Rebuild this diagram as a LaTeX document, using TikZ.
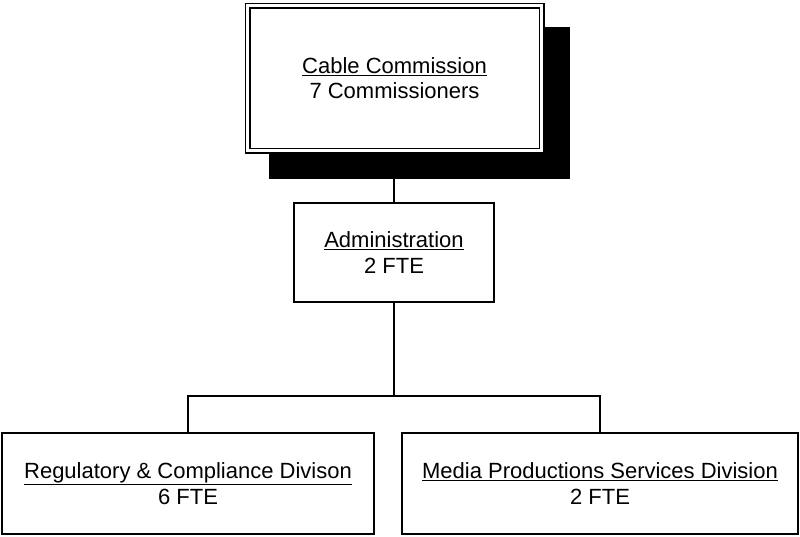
\documentclass[tikz,border=0pt]{standalone}
\usepackage{fontspec}
\setmainfont{Liberation Sans}
\begin{document}
\begin{tikzpicture}[x=1pt,y=-1pt,
  box/.style={draw,line width=1.5pt,fill=white,inner sep=0pt,align=center,
    font=\fontsize{22}{25.5}\selectfont},
  link/.style={line width=1.5pt}]
\useasboundingbox (0,0) rectangle (800,536);
% shadow and top box
\node[fill=black,minimum width=301pt,minimum height=152pt,inner sep=0pt] (shadow) at (419.5,103) {};
\node[box,double,double distance=3pt,minimum width=294pt,minimum height=145pt] (top) at (394.5,78)
  {\underline{Cable Commission}\\7 Commissioners};
% administration
\node[box,minimum width=200pt,minimum height=99pt] (admin) at (394,252.5)
  {\underline{Administration}\\2 FTE};
% divisions
\node[box,minimum width=372pt,minimum height=101pt] (reg) at (188,483.5)
  {\underline{Regulatory \& Compliance Divison}\\6 FTE};
\node[box,minimum width=396pt,minimum height=101pt] (media) at (600,483.5)
  {\underline{Media Productions Services Division}\\2 FTE};
% connectors
\coordinate (bus) at (394,396);
\draw[link] (admin.north) -- (admin.north |- shadow.south);
\draw[link] (admin.south) -- (bus);
\draw[link] (reg.north) |- (bus) -| (media.north);
\end{tikzpicture}
\end{document}
